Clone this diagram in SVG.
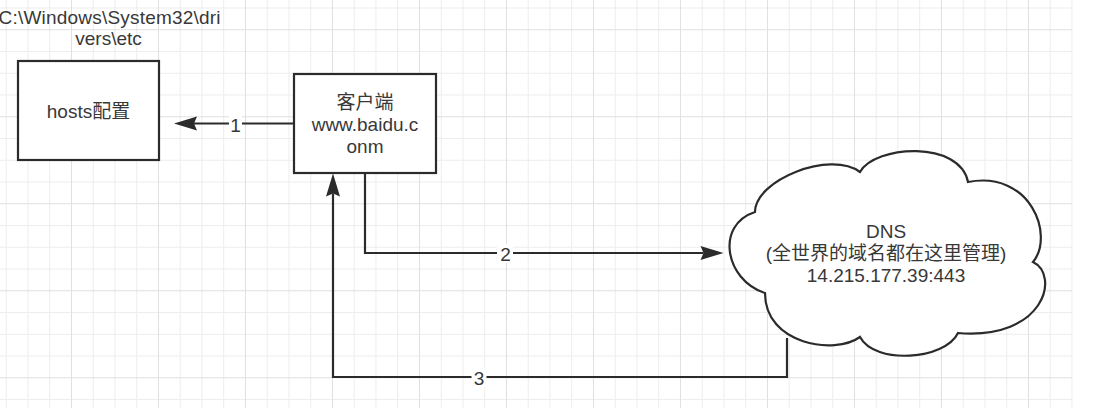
<svg xmlns="http://www.w3.org/2000/svg" width="1108" height="408" viewBox="0 0 1108 408">
<defs>
<style>
.minor{stroke:#ededed;stroke-width:1;fill:none}
.major{stroke:#e0e0e0;stroke-width:1;fill:none}
.box{fill:#ffffff;stroke:#2b2b2b;stroke-width:2.2}
.edge{fill:none;stroke:#2b2b2b;stroke-width:2.2}
.t{font-family:"Liberation Sans","Noto Sans CJK SC",sans-serif;font-size:19px;fill:#383838;text-anchor:middle}
.lblbg{fill:#ffffff}
</style>
<marker id="arr" markerUnits="userSpaceOnUse" markerWidth="24" markerHeight="14" refX="3" refY="7" orient="auto" overflow="visible">
<path d="M0,0 L23,7 L0,14 L3,7 Z" fill="#2b2b2b"/>
</marker>
</defs>
<rect x="0" y="0" width="1108" height="408" fill="#ffffff"/>
<g id="grid">
<path class="minor" d="M6.2,0V408M27.95,0V408M49.7,0V408M93.2,0V408M114.95,0V408M136.7,0V408M180.2,0V408M201.95,0V408M223.7,0V408M267.2,0V408M288.95,0V408M310.7,0V408M354.2,0V408M375.95,0V408M397.7,0V408M441.2,0V408M462.95,0V408M484.7,0V408M528.2,0V408M549.95,0V408M571.7,0V408M615.2,0V408M636.95,0V408M658.7,0V408M702.2,0V408M723.95,0V408M745.7,0V408M789.2,0V408M810.95,0V408M832.7,0V408M876.2,0V408M897.95,0V408M919.7,0V408M963.2,0V408M984.95,0V408M1006.7,0V408M1050.2,0V408M1071.95,0V408M0,8H1072M0,51.5H1072M0,73.25H1072M0,95H1072M0,138.5H1072M0,160.25H1072M0,182H1072M0,225.5H1072M0,247.25H1072M0,269H1072M0,312.5H1072M0,334.25H1072M0,356H1072M0,399.5H1072"/>
<path class="major" d="M71.45,0V408M158.45,0V408M245.45,0V408M332.45,0V408M419.45,0V408M506.45,0V408M593.45,0V408M680.45,0V408M767.45,0V408M854.45,0V408M941.45,0V408M1028.45,0V408M0,29.75H1072M0,116.75H1072M0,203.75H1072M0,290.75H1072M0,377.75H1072"/>
</g>
<g id="path-label">
<text class="t" x="109.5" y="23.5" textLength="222" lengthAdjust="spacing">C:\Windows\System32\dri</text>
<text class="t" x="108.5" y="45">vers\etc</text>
</g>
<g id="connectors">
<path class="edge" d="M294,123.5 H194" marker-end="url(#arr)"/>
<path class="edge" d="M365,173 V253 H703.5" marker-end="url(#arr)"/>
<path class="edge" d="M787,338 V377 H333 V193.5" marker-end="url(#arr)"/>
<rect class="lblbg" x="229" y="114" width="13" height="19"/>
<text class="t" x="235.5" y="131.5">1</text>
<rect class="lblbg" x="497" y="244" width="16" height="19"/>
<text class="t" x="505.5" y="260.5">2</text>
<rect class="lblbg" x="471.5" y="368" width="15" height="19"/>
<text class="t" x="479" y="384.5">3</text>
</g>
<g id="hosts">
<rect class="box" x="18" y="61" width="141" height="99"/>
<text class="t" x="88.5" y="118">hosts配置</text>
</g>
<g id="client">
<rect class="box" x="294" y="74" width="142" height="99"/>
<text class="t" x="365" y="109">客户端</text>
<text class="t" x="365" y="131">www.baidu.c</text>
<text class="t" x="365" y="153">onm</text>
</g>
<g id="dns">
<path class="box" d="M755,212 C755,180 830,150 860,172 C875,145 960,140 968,182 C1030,170 1055,235 1033,262 C1060,275 1045,340 958,333 C945,360 875,365 860,337 C835,355 765,345 765,293 C725,280 715,225 755,212 Z"/>
<text class="t" x="886" y="238">DNS</text>
<text class="t" x="886" y="260">(全世界的域名都在这里管理)</text>
<text class="t" x="886" y="282">14.215.177.39:443</text>
</g>
</svg>
